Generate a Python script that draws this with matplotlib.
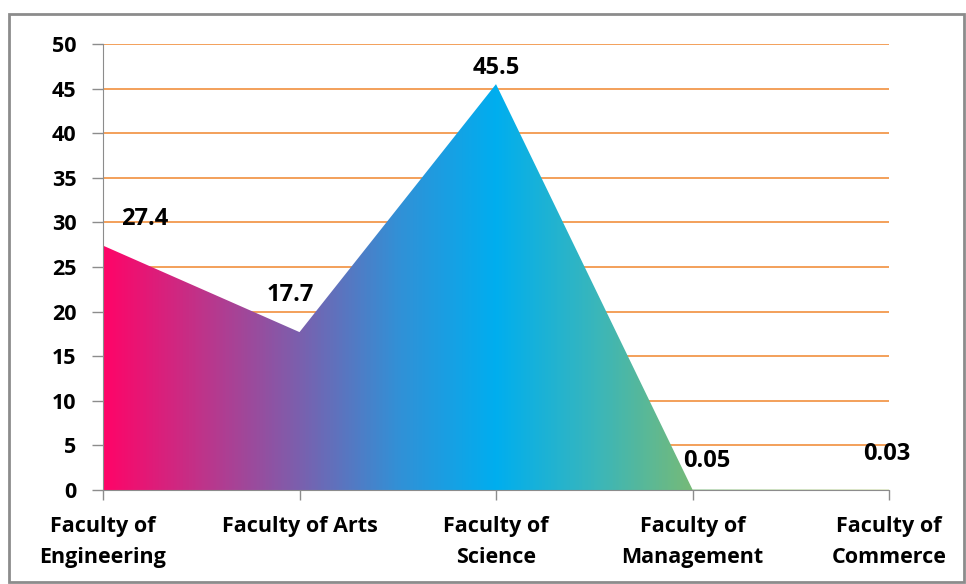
import numpy as np
import matplotlib
matplotlib.use("Agg")
import matplotlib.pyplot as plt
from matplotlib.colors import LinearSegmentedColormap
from matplotlib.patches import Rectangle

categories = ["Faculty of\nEngineering", "Faculty of Arts", "Faculty of\nScience",
              "Faculty of\nManagement", "Faculty of\nCommerce"]
values = [27.4, 17.7, 45.5, 0.05, 0.03]
labels = ["27.4", "17.7", "45.5", "0.05", "0.03"]
yticks = [0, 5, 10, 15, 20, 25, 30, 35, 40, 45, 50]

plt.rcParams['font.family'] = ['Open Sans', 'DejaVu Sans']

fig = plt.figure(figsize=(9.66, 5.84), dpi=100)
ax = fig.add_axes([103/966, 1 - 490/584, (889-103)/966, (490-44)/584])

x = np.arange(len(values))
ax.set_xlim(0, len(values) - 1)
ax.set_ylim(0, 50)

# orange gridlines
for t in yticks[1:]:
    ax.axhline(t, color="#F0862E", lw=1.1, zorder=1)

poly = ax.fill_between(x, values, 0, color="none", lw=0, zorder=2)
cmap = LinearSegmentedColormap.from_list(
    "grad",
    [(0.0, "#FF0468"), (0.125, "#BE348A"), (0.25, "#7A60AE"),
     (0.375, "#3290D6"), (0.5, "#00AEEF"), (0.625, "#38B6BC"),
     (0.75, "#76BA78"), (1.0, "#A0C050")])
grad = np.linspace(0, 1, 512).reshape(1, -1)
im = ax.imshow(grad, extent=[0, len(values) - 1, 0, 50], aspect="auto",
               cmap=cmap, zorder=2, origin="lower")
path = poly.get_paths()[0]
im.set_clip_path(path, transform=ax.transData)

offsets = [(30, 19), (-6.5, 27), (0, 11.5), (10, 20.5), (-1.5, 26)]
for xi, v, lab, off in zip(x, values, labels, offsets):
    ax.annotate(lab, (xi, v), xytext=off, textcoords="offset points",
                ha="center", va="center", fontsize=17, fontweight="bold",
                color="#000000", zorder=5)

ax.set_yticks(yticks)
ax.set_yticklabels([str(t) for t in yticks], fontsize=15.5, fontweight="bold")
ax.set_xticks(x)
ax.set_xticklabels(categories, fontsize=15.5, fontweight="bold", linespacing=1.6)
ax.tick_params(axis="y", length=8, width=1, color="#8C8C8C", pad=11)
ax.tick_params(axis="x", length=7, width=1, color="#8C8C8C", pad=12)

for s in ["top", "right"]:
    ax.spines[s].set_visible(False)
ax.spines["left"].set_color("#8C8C8C")
ax.spines["bottom"].set_color("#8C8C8C")
ax.spines["left"].set_zorder(4)
ax.spines["bottom"].set_zorder(4)

fig.patches.append(Rectangle((9/966, 1 - 582/584), 955/966, (582-14)/584,
                             transform=fig.transFigure, fill=False,
                             edgecolor="#8C8C8C", lw=2))

fig.savefig("out.png", dpi=100)
